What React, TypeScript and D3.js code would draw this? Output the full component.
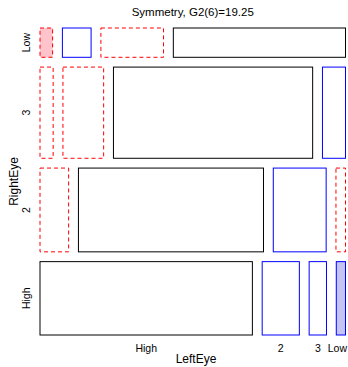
import React from 'react'
import * as d3 from 'd3'

const width = 348
const height = 367

// vision data: rows = RightEye, columns = LeftEye
const levels = ['High', '2', '3', 'Low']
const rowHigh = [1520, 266, 124, 66]
const row2 = [234, 1512, 432, 78]
const row3 = [117, 362, 1772, 205]
const rowLow = [36, 82, 179, 492]
const title = 'Symmetry, G2(6)=19.25'

const table = [rowHigh, row2, row3, rowLow]
// rows are drawn with Low at the top
const rowOrder = [3, 2, 1, 0]

const left = 40
const right = 345.5
const top = 28
const bottom = 335
const gap = 9.8
const font = 'Liberation Sans, Arial, Helvetica, sans-serif'

function residual(i: number, j: number) {
  const fit = (table[i][j] + table[j][i]) / 2
  return (table[i][j] - fit) / Math.sqrt(fit)
}

export default function App() {
  const total = d3.sum(table, (r) => d3.sum(r))
  const yScale = d3
    .scaleLinear()
    .domain([0, total])
    .range([0, bottom - top - gap * (levels.length - 1)])

  const tiles: any[] = []
  const rowCenters: { label: string; y: number }[] = []
  let y0 = top
  rowOrder.forEach((i) => {
    const row = table[i]
    const h = yScale(d3.sum(row))
    const xScale = d3
      .scaleLinear()
      .domain([0, d3.sum(row)])
      .range([0, right - left - gap * (levels.length - 1)])
    let x0 = left
    row.forEach((v, j) => {
      const w = xScale(v)
      const r = residual(i, j)
      tiles.push({ key: i + '-' + j, x: x0, y: y0, w, h, r, row: i, col: j })
      x0 += w + gap
    })
    rowCenters.push({ label: levels[i], y: y0 + h / 2 })
    y0 += h + gap
  })

  // column labels follow the bottom row
  const colCenters = tiles
    .filter((t) => t.row === 0)
    .map((t) => ({ label: levels[t.col], x: t.x + t.w / 2 }))

  const stroke = (r: number) => (Math.abs(r) < 1e-9 ? '#000' : r > 0 ? '#0000ff' : '#ff0000')
  const fill = (r: number) => (r >= 2 ? '#c3c3f6' : r <= -2 ? '#ffc3cb' : 'none')

  return (
    <svg width={width} height={height} style={{ position: 'absolute', left: 0, top: 0 }} fontFamily={font}>
      <rect width={width} height={height} fill="#fff" />
      <text x={(left + right) / 2} y={16} fontSize={11.5} textAnchor="middle">
        {title}
      </text>
      {tiles.map((t) => (
        <rect
          key={t.key}
          x={t.x}
          y={t.y}
          width={t.w}
          height={t.h}
          fill={fill(t.r)}
          stroke={stroke(t.r)}
          strokeWidth={1}
          strokeDasharray={t.r < 0 ? '4,3' : undefined}
        />
      ))}
      {colCenters.map((c, k) => {
        const last = k === colCenters.length - 1
        return (
          <text
            key={c.label}
            x={last ? width - 1 : c.x}
            y={352}
            fontSize={10.5}
            textAnchor={last ? 'end' : 'middle'}
          >
            {c.label}
          </text>
        )
      })}
      {rowCenters.map((c) => (
        <text
          key={c.label}
          transform={`translate(30,${c.y}) rotate(-90)`}
          fontSize={10.5}
          textAnchor="middle"
        >
          {c.label}
        </text>
      ))}
      <text x={196} y={363} fontSize={12} textAnchor="middle">
        LeftEye
      </text>
      <text transform={`translate(18,${(top + bottom) / 2}) rotate(-90)`} fontSize={12} textAnchor="middle">
        RightEye
      </text>
    </svg>
  )
}
